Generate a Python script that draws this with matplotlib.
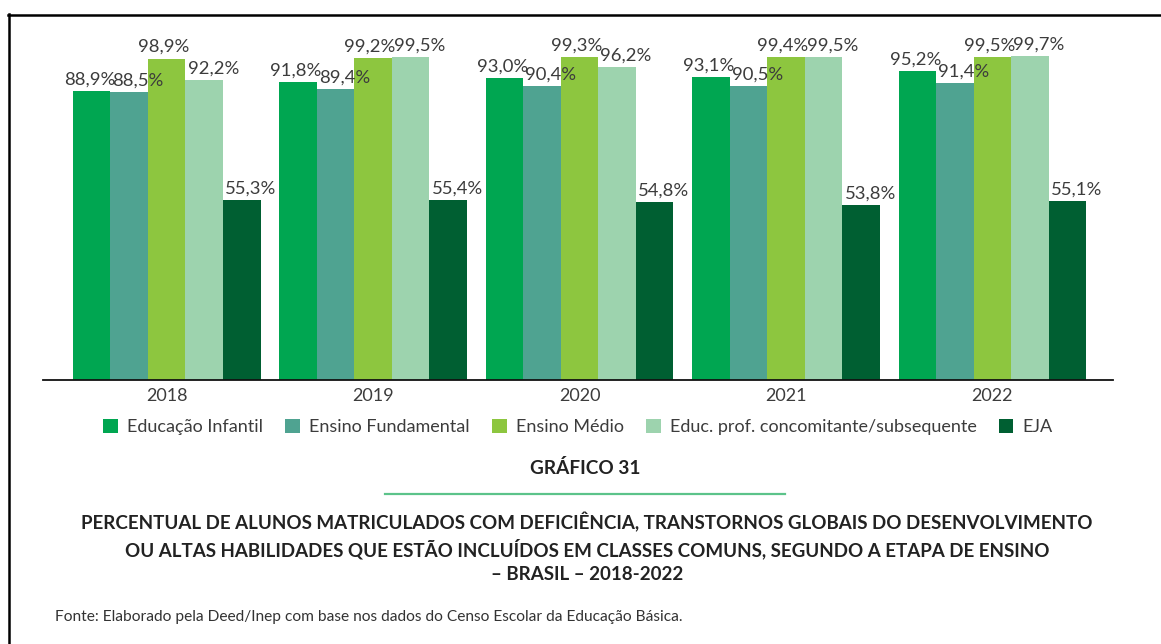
import matplotlib
matplotlib.use('Agg')

import matplotlib.pyplot as plt
from matplotlib.lines import Line2D
from matplotlib.patches import Patch
import numpy as np

years = ["2018", "2019", "2020", "2021", "2022"]
series_names = ["Educação Infantil", "Ensino Fundamental", "Ensino Médio",
                "Educ. prof. concomitante/subsequente", "EJA"]
educ_infantil = [88.9, 91.8, 93.0, 93.1, 95.2]
ens_fundamental = [88.5, 89.4, 90.4, 90.5, 91.4]
ens_medio = [98.9, 99.2, 99.3, 99.4, 99.5]
educ_prof = [92.2, 99.5, 96.2, 99.5, 99.7]
eja = [55.3, 55.4, 54.8, 53.8, 55.1]

colors = ["#00a651", "#4fa391", "#8dc63f", "#9dd3ae", "#005f32"]
label_dx = [-2, 9, -3, 9, 9]  # px shift of value labels, as in the original

W, H = 1161, 644
DPI = 100
plt.rcParams['font.family'] = ['Lato', 'DejaVu Sans']

fig = plt.figure(figsize=(W / DPI, H / DPI), dpi=DPI)


def fx(px):
    return px / W


def fy(py):
    return 1 - py / H


ax = fig.add_axes([fx(43), fy(380), fx(1113 - 43), (380 - 20) / H])

all_series = [educ_infantil, ens_fundamental, ens_medio, educ_prof, eja]
x = np.arange(len(years))
bw = 0.182
for i, vals in enumerate(all_series):
    pos = x + (i - 2) * bw
    ax.bar(pos, vals, width=bw, color=colors[i], linewidth=0)
    for xp, v in zip(pos, vals):
        ax.annotate(f"{v:.1f}%".replace(".", ","), (xp, v),
                    xytext=(label_dx[i] * 72 / DPI, 2.5), textcoords="offset points",
                    ha="center", va="bottom", fontsize=13.3, color="#3c3c3c")

ax.set_xlim(-0.599, 4.584)
ax.set_ylim(0, 110.77)
ax.set_xticks(x)
ax.set_xticklabels(years, fontsize=13, color="#3c3c3c")
ax.tick_params(axis="x", length=0, pad=6)
ax.set_yticks([])
for s in ["top", "right", "left"]:
    ax.spines[s].set_visible(False)
ax.spines["bottom"].set_linewidth(1.3)
ax.spines["bottom"].set_color("#111111")

handles = [Patch(facecolor=c, edgecolor="none") for c in colors]
fig.legend(handles, series_names, loc="center", bbox_to_anchor=(fx(578), fy(427)),
           ncol=5, frameon=False, fontsize=13, handlelength=0.8, handleheight=0.8,
           handletextpad=0.5, columnspacing=1.25, labelcolor="#3c3c3c")

# texto abaixo do gráfico
fig.text(fx(585), fy(468), "GRÁFICO 31", ha="center", va="center",
         fontsize=13.7, fontweight="bold", color="#222222")
fig.add_artist(Line2D([fx(385), fx(785)], [fy(494), fy(494)], color="#5cc38a", lw=1.6))
title_lines = [
    "PERCENTUAL DE ALUNOS MATRICULADOS COM DEFICIÊNCIA, TRANSTORNOS GLOBAIS DO DESENVOLVIMENTO",
    "OU ALTAS HABILIDADES QUE ESTÃO INCLUÍDOS EM CLASSES COMUNS, SEGUNDO A ETAPA DE ENSINO",
    "– BRASIL – 2018-2022",
]
for k, line in enumerate(title_lines):
    fig.text(fx(587), fy(522 + 26.5 * k), line, ha="center", va="center",
             fontsize=13.5, fontweight="bold", color="#222222")
fig.text(fx(55), fy(617), "Fonte: Elaborado pela Deed/Inep com base nos dados do Censo Escolar da Educação Básica.",
         ha="left", va="center", fontsize=11.2, color="#333333")

# moldura
fig.add_artist(Line2D([fx(8), fx(1161)], [fy(15), fy(15)], color="black", lw=1.8))
fig.add_artist(Line2D([fx(9), fx(9)], [fy(14), fy(644)], color="black", lw=1.8))

fig.savefig("out.png", dpi=DPI)
